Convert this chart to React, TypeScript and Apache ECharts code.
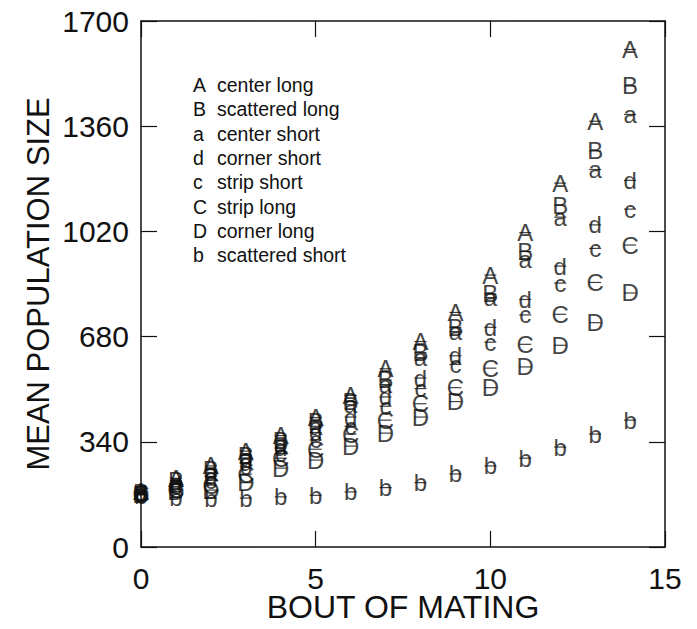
import React, { useEffect, useRef } from "react";
import * as echarts from "echarts";

const bouts = [0, 1, 2, 3, 4, 5, 6, 7, 8, 9, 10, 11, 12, 13, 14];
const seriesLetters = ["A", "B", "a", "d", "c", "C", "D", "b"];
const seriesNames = [
  "center long",
  "scattered long",
  "center short",
  "corner short",
  "strip short",
  "strip long",
  "corner long",
  "scattered short",
];
const centerLong = [178, 222, 262, 310, 360, 418, 490, 576, 664, 758, 879, 1016, 1176, 1376, 1608];
const scatteredLong = [176, 215, 250, 297, 345, 404, 470, 540, 628, 710, 818, 955, 1105, 1280, 1490];
const centerShort = [175, 210, 240, 288, 332, 390, 460, 525, 612, 696, 806, 930, 1066, 1220, 1398];
const cornerShort = [174, 203, 228, 272, 320, 370, 420, 485, 546, 618, 710, 800, 908, 1041, 1185];
const stripShort = [173, 196, 216, 259, 302, 346, 390, 455, 512, 590, 662, 750, 853, 965, 1092];
const stripLong = [172, 186, 200, 235, 287, 316, 365, 410, 463, 515, 578, 655, 752, 855, 976];
const cornerLong = [170, 178, 184, 208, 255, 281, 326, 368, 420, 470, 515, 582, 652, 725, 821];
const scatteredShort = [168, 160, 158, 158, 162, 167, 178, 192, 208, 236, 262, 287, 323, 365, 410];
const seriesValues = [centerLong, scatteredLong, centerShort, cornerShort, stripShort, stripLong, cornerLong, scatteredShort];
const yTicks = [0, 340, 680, 1020, 1360, 1700];
const xTicks = [0, 5, 10, 15];

const FONT = "'Liberation Sans', Arial, Helvetica, sans-serif";
const INK = "#111";

export default function App() {
  const ref = useRef<HTMLDivElement>(null);
  useEffect(() => {
    if (!ref.current) return;
    const chart = echarts.init(ref.current, null, { renderer: "svg" });
    const axisCommon = {
      axisLine: { show: true, onZero: false, lineStyle: { color: INK, width: 1.5 } },
      axisTick: { show: true, inside: true, length: 16, lineStyle: { color: INK, width: 1.2 } },
      splitLine: { show: false },
    };
    const xStep = xTicks[1] - xTicks[0];
    const yStep = yTicks[1] - yTicks[0];
    const xAxisBase = { type: "value", min: xTicks[0], max: xTicks[xTicks.length - 1], interval: xStep, ...axisCommon };
    const yAxisBase = { type: "value", min: yTicks[0], max: yTicks[yTicks.length - 1], interval: yStep, ...axisCommon };
    const legendGraphics: any[] = [];
    seriesLetters.forEach((l, i) => {
      const y = 86 + i * 24.3;
      legendGraphics.push({
        type: "text",
        left: 193,
        top: y - 11,
        style: { text: l, fontSize: 19.5, fontFamily: FONT, fill: INK },
      });
      legendGraphics.push({
        type: "text",
        left: 217,
        top: y - 11,
        style: { text: seriesNames[i], fontSize: 19.5, fontFamily: FONT, fill: INK },
      });
    });
    const plain = (v: number) => String(v);
    chart.setOption({
      animation: false,
      grid: { left: 141, right: 32, top: 21, bottom: 82, outerBoundsMode: "none", containLabel: false },
      xAxis: [
        {
          ...xAxisBase,
          position: "bottom",
          axisLabel: { fontSize: 30, color: INK, fontFamily: FONT, margin: 16, formatter: plain },
          name: "BOUT OF MATING",
          nameLocation: "middle",
          nameGap: 44,
          nameMoveOverlap: false,
          nameTextStyle: { fontSize: 32, color: INK, fontFamily: FONT },
        },
        { ...xAxisBase, position: "top", axisLabel: { show: false } },
      ],
      yAxis: [
        {
          ...yAxisBase,
          position: "left",
          axisLabel: { fontSize: 30, color: INK, fontFamily: FONT, margin: 12, formatter: plain },
          name: "MEAN POPULATION SIZE",
          nameLocation: "middle",
          nameGap: 87,
          nameMoveOverlap: false,
          nameTextStyle: { fontSize: 31, color: INK, fontFamily: FONT },
        },
        { ...yAxisBase, position: "right", axisLabel: { show: false } },
      ],
      graphic: legendGraphics,
      series: seriesLetters.map((letter, i) => ({
        type: "scatter",
        name: seriesNames[i],
        xAxisIndex: 0,
        yAxisIndex: 0,
        symbol: "rect",
        symbolSize: [12, 1.2],
        itemStyle: { color: INK },
        data: bouts.map((b, j) => [b, seriesValues[i][j]]),
        label: {
          show: true,
          position: "inside",
          formatter: letter,
          fontSize: 24,
          fontFamily: FONT,
          color: INK,
          textBorderWidth: 0,
        },
        emphasis: { disabled: true },
      })),
    });
    return () => chart.dispose();
  }, []);
  return (
    <div
      ref={ref}
      style={{ position: "absolute", left: 0, top: 0, width: 697, height: 629, background: "#fff" }}
    />
  );
}
